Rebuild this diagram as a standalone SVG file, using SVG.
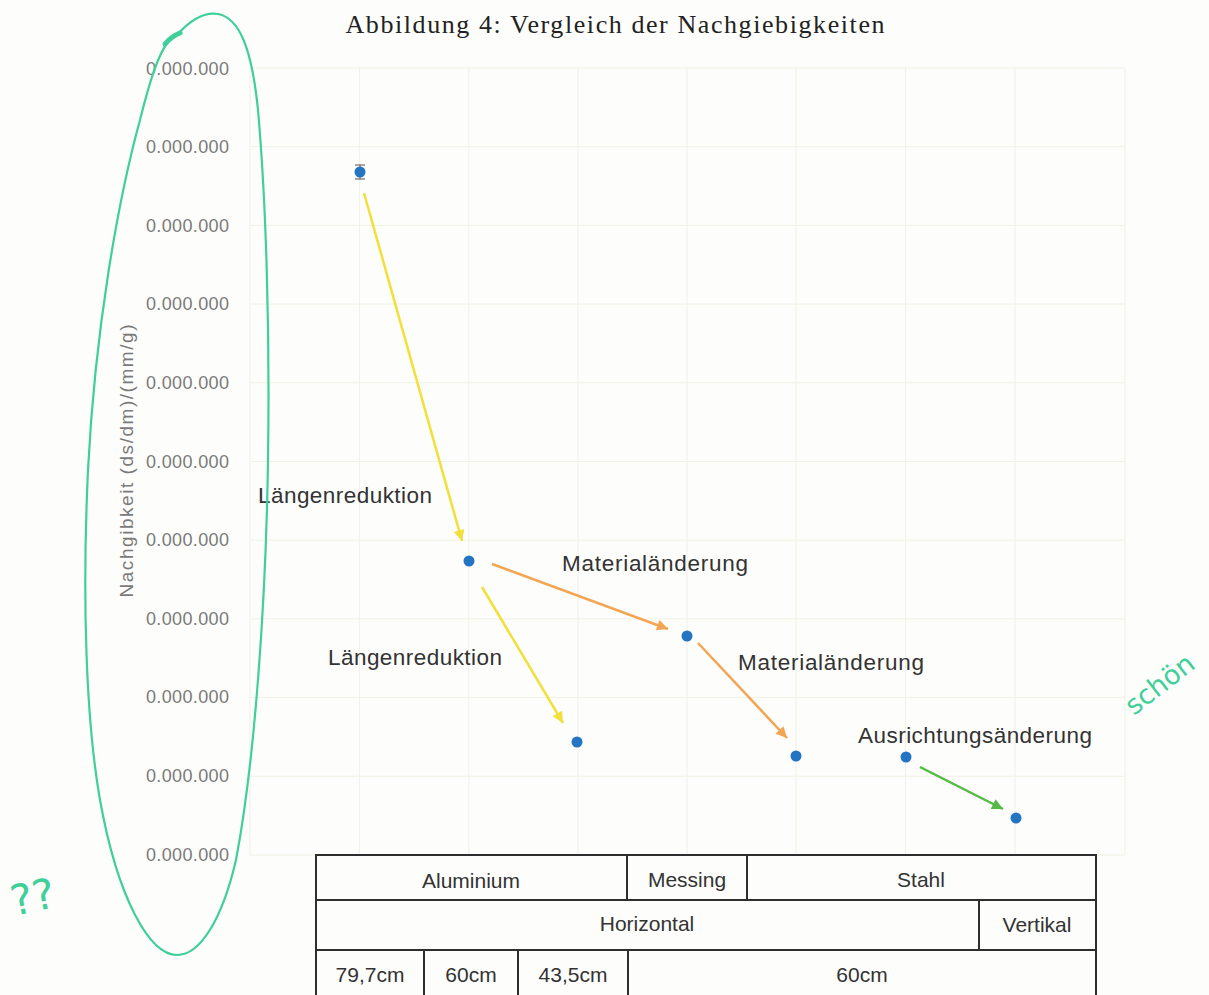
<svg xmlns="http://www.w3.org/2000/svg" width="1209" height="995" viewBox="0 0 1209 995">
<defs>
<style>
.grid{stroke:#f1f1e6;stroke-width:1;fill:none}
.tick{font-family:"Liberation Sans",Arial,sans-serif;font-size:18px;fill:#7a7a7a;text-anchor:end}
.lbl{font-family:"Liberation Sans",Arial,sans-serif;font-size:22.5px;fill:#333}
.cell{font-family:"Liberation Sans",Arial,sans-serif;font-size:21px;fill:#333;text-anchor:middle}
.tbl{stroke:#2e2e2e;stroke-width:2;fill:none}
.dot{fill:#2474c4}
.ar{fill:none;stroke-width:2.5}
.hand{fill:none;stroke:#3fcf98;stroke-width:2.2;stroke-linecap:round}
.handtxt{font-family:"DejaVu Sans",sans-serif;fill:#3fcf98}
</style>
<marker id="mY" viewBox="0 0 10 10" refX="10" refY="5" markerWidth="14" markerHeight="11" markerUnits="userSpaceOnUse" orient="auto"><path d="M0,0 L10,5 L0,10 z" fill="#f2df3a"/></marker>
<marker id="mO" viewBox="0 0 10 10" refX="10" refY="5" markerWidth="14" markerHeight="11" markerUnits="userSpaceOnUse" orient="auto"><path d="M0,0 L10,5 L0,10 z" fill="#f2a553"/></marker>
<marker id="mG" viewBox="0 0 10 10" refX="10" refY="5" markerWidth="14" markerHeight="11" markerUnits="userSpaceOnUse" orient="auto"><path d="M0,0 L10,5 L0,10 z" fill="#55b947"/></marker>
</defs>
<rect x="0" y="0" width="1209" height="995" fill="#fdfdfb"/>

<text x="615" y="33" font-family="'Liberation Serif','Times New Roman',serif" font-size="26" fill="#222" text-anchor="middle" textLength="539">Abbildung 4: Vergleich der Nachgiebigkeiten</text>

<g id="grid">
<path class="grid" d="M250,68 H1125 M250,146.7 H1125 M250,225.4 H1125 M250,304.1 H1125 M250,382.8 H1125 M250,461.5 H1125 M250,540.2 H1125 M250,618.9 H1125 M250,697.6 H1125 M250,776.3 H1125 M250,855 H1125"/>
<path class="grid" d="M250,68 V855 M359.4,68 V855 M468.8,68 V855 M578,68 V855 M687,68 V855 M796,68 V855 M905.5,68 V855 M1015,68 V855 M1125,68 V855"/>
</g>

<g id="yaxis">
<text class="tick" x="229" y="75" textLength="83">0.000.000</text>
<text class="tick" x="229" y="153" textLength="83">0.000.000</text>
<text class="tick" x="229" y="232" textLength="83">0.000.000</text>
<text class="tick" x="229" y="310" textLength="83">0.000.000</text>
<text class="tick" x="229" y="389" textLength="83">0.000.000</text>
<text class="tick" x="229" y="468" textLength="83">0.000.000</text>
<text class="tick" x="229" y="546" textLength="83">0.000.000</text>
<text class="tick" x="229" y="625" textLength="83">0.000.000</text>
<text class="tick" x="229" y="703" textLength="83">0.000.000</text>
<text class="tick" x="229" y="782" textLength="83">0.000.000</text>
<text class="tick" x="229" y="861" textLength="83">0.000.000</text>
<text x="133" y="461" transform="rotate(-90 133 461)" font-family="'Liberation Sans',Arial,sans-serif" font-size="19" fill="#7a7a7a" text-anchor="middle" textLength="273">Nachgibkeit (ds/dm)/(mm/g)</text>
</g>

<g id="points">
<path d="M360,165 V179 M355,165 H365 M355,179 H365" stroke="#555" stroke-width="1" fill="none"/>
<circle class="dot" cx="360" cy="172" r="5.5"/>
<circle class="dot" cx="469" cy="561" r="5.5"/>
<circle class="dot" cx="577" cy="742" r="5.5"/>
<circle class="dot" cx="687" cy="636" r="5.5"/>
<circle class="dot" cx="796" cy="756" r="5.5"/>
<circle class="dot" cx="906" cy="757" r="5.5"/>
<circle class="dot" cx="1016" cy="818" r="5.5"/>
</g>

<g id="connectors">
<line class="ar" x1="364" y1="193" x2="462" y2="541" stroke="#f2df3a" marker-end="url(#mY)"/>
<line class="ar" x1="482" y1="587" x2="563" y2="723" stroke="#f2df3a" marker-end="url(#mY)"/>
<line class="ar" x1="492" y1="564" x2="668" y2="629" stroke="#f2a553" marker-end="url(#mO)"/>
<line class="ar" x1="698" y1="643" x2="787" y2="738" stroke="#f2a553" marker-end="url(#mO)"/>
<line class="ar" x1="920" y1="767" x2="1003" y2="809" stroke="#55b947" marker-end="url(#mG)"/>
</g>

<g id="labels">
<text class="lbl" x="258" y="503" textLength="174">Längenreduktion</text>
<text class="lbl" x="562" y="571" textLength="186">Materialänderung</text>
<text class="lbl" x="328" y="665" textLength="174">Längenreduktion</text>
<text class="lbl" x="738" y="670" textLength="186">Materialänderung</text>
<text class="lbl" x="858" y="743" textLength="234">Ausrichtungsänderung</text>
</g>

<g id="table">
<rect class="tbl" x="316" y="855" width="780" height="150"/>
<path class="tbl" d="M316,900 H1096 M316,950 H1096 M627,855 V900 M747,855 V900 M979,900 V950 M424,950 V995 M518,950 V995 M628,950 V995"/>
<text class="cell" x="471" y="888">Aluminium</text>
<text class="cell" x="687" y="887">Messing</text>
<text class="cell" x="921" y="887">Stahl</text>
<text class="cell" x="647" y="931">Horizontal</text>
<text class="cell" x="1037" y="932">Vertikal</text>
<text class="cell" x="370" y="982">79,7cm</text>
<text class="cell" x="471" y="982">60cm</text>
<text class="cell" x="573" y="982">43,5cm</text>
<text class="cell" x="862" y="982">60cm</text>
</g>

<g id="annotations">
<path class="hand" d="M176,36 C190,20 205,12 218,14 C240,18 252,50 258,110 C266,200 270,330 268,460 C266,600 255,760 236,860 C222,920 200,955 177,955 C150,955 118,900 100,800 C86,720 82,600 88,470 C95,330 118,200 140,120 C150,80 158,55 168,42"/>
<path d="M165,44 C170,38 175,35 180,33" stroke="#3fcf98" stroke-width="5" fill="none" stroke-linecap="round"/>
<text class="handtxt" x="14" y="916" font-size="42" transform="rotate(-12 14 916)">??</text>
<text class="handtxt" x="1134" y="716" font-size="27" transform="rotate(-38 1134 716)">schön</text>
</g>
</svg>
